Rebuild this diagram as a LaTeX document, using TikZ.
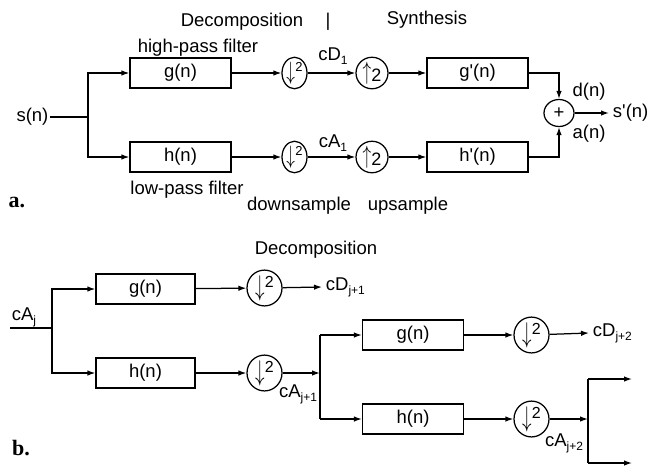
\documentclass[tikz,border=0pt]{standalone}
\usepackage{fontspec}
\setmainfont{Liberation Sans}
\newfontfamily\labfont{Liberation Serif}
\usetikzlibrary{shapes.geometric,arrows.meta}
\newcommand\mysub[1]{\raisebox{-0.4ex}{\fontsize{12}{12}\selectfont #1}}
\newcommand\pr{\textquotesingle}
\newcommand\dnsym{\raisebox{-0.15ex}{\scalebox{1.0}[1.45]{$\downarrow$}}\kern0.3pt\raisebox{0.6ex}{\fontsize{13}{13}\selectfont 2}}
\newcommand\dnsymb{\raisebox{-0.15ex}{\scalebox{1.1}[1.65]{$\downarrow$}}\kern0.3pt\raisebox{0.6ex}{\fontsize{16}{16}\selectfont 2}}
\newcommand\upsym{\raisebox{-0.05ex}{\scalebox{1.0}[1.45]{$\uparrow$}}\kern0.3pt\raisebox{-0.3ex}{\fontsize{18}{18}\selectfont 2}}
\begin{document}
\begin{tikzpicture}[x=1pt,y=-1pt,
  every node/.style={font=\fontsize{18.5}{22}\selectfont},
  line width=1.25pt,
  arr/.style={-{Latex[length=8pt,width=5.5pt]}},
  fbox/.style={draw,rectangle,minimum width=101pt,minimum height=30pt,inner sep=0pt},
  dsa/.style={draw,ellipse,minimum width=25pt,minimum height=23pt,inner sep=0pt},
  usa/.style={draw,ellipse,minimum width=32pt,minimum height=22pt,inner sep=0pt},
  dsb/.style={draw,ellipse,minimum width=35pt,minimum height=28pt,inner sep=0pt},
  sumc/.style={draw,ellipse,minimum width=30pt,minimum height=27pt,inner sep=0pt},
  tag/.style={font=\fontsize{22}{24}\selectfont\labfont\bfseries}]
\useasboundingbox (0,0) rectangle (650,467);
% ---------- part a ----------
\node (tdec) at (242,22) {Decomposition};
\node (tbar) at (328,22) {|};
\node (tsyn) at (427,20) {Synthesis};
\node (hp) at (198,48) {high-pass filter};
\node (lp) at (187,190) {low-pass filter};
\node (dslab) at (299,206) {downsample};
\node (uslab) at (408,206) {upsample};
\node[tag] (ta) at (17,202) {a.};
\node[anchor=east,inner sep=1pt] (sn) at (50,117) {s(n)};
\coordinate (sa) at (88,117);
\node[fbox] (g1) at (180.5,73) {g(n)};
\node[fbox] (h1) at (180.5,157) {h(n)};
\node[dsa] (d1) at (294.5,73) {\dnsym};
\node[dsa] (d2) at (294.5,157) {\dnsym};
\node[usa] (u1) at (372,73) {\upsym};
\node[usa] (u2) at (372,157) {\upsym};
\node[fbox] (g2) at (477.5,73) {g\pr(n)};
\node[fbox] (h2) at (477.5,157) {h\pr(n)};
\node[sumc] (sum) at (559,113) {+};
\node[anchor=west] (sout) at (609,113) {s\pr(n)};
\node (dn) at (589,92) {d(n)};
\node (an) at (589,134) {a(n)};
\node (cd1) at (333,56) {cD\mysub{1}};
\node (ca1) at (333,143) {cA\mysub{1}};
\draw (sn.east) -- (sa);
\draw[arr] (sa) |- (g1.west);
\draw[arr] (sa) |- (h1.west);
\draw[arr] (g1) -- (d1);
\draw[arr] (h1) -- (d2);
\draw[arr] (d1) -- (u1);
\draw[arr] (d2) -- (u2);
\draw[arr] (u1) -- (g2);
\draw[arr] (u2) -- (h2);
\draw[arr] (g2.east) -| (sum.north);
\draw[arr] (h2.east) -| (sum.south);
\draw[arr] (sum) -- (sout.west);
% ---------- part b ----------
\node (tdec2) at (316,250) {Decomposition};
\node[tag] (tb) at (21,448) {b.};
\node (caj) at (24,317) {cA\mysub{j}};
\coordinate (bs) at (10,328);
\coordinate (bsp) at (52,328);
\node[fbox,minimum width=99pt] (g3) at (145.5,289) {g(n)};
\node[fbox,minimum width=99pt] (h3) at (145.5,373) {h(n)};
\node[dsb] (b1) at (264.5,288) {\dnsymb};
\node[dsb] (b2) at (264.5,373) {\dnsymb};
\node[anchor=west] (cdj1) at (322,287) {cD\mysub{j+1}};
\node (caj1) at (298,394) {cA\mysub{j+1}};
\coordinate (bsp2) at (320,373);
\node[fbox] (g4) at (413,335) {g(n)};
\node[fbox] (h4) at (413,419) {h(n)};
\node[dsb] (b3) at (531.5,335) {\dnsymb};
\node[dsb] (b4) at (531.5,419) {\dnsymb};
\node[anchor=west] (cdj2) at (589,333) {cD\mysub{j+2}};
\node (caj2) at (564,443) {cA\mysub{j+2}};
\coordinate (bsp3) at (588,419);
\coordinate (o1) at (632,379);
\coordinate (o2) at (632,463);
\draw (bs) -- (bsp);
\draw[arr] (bsp) |- (g3.west);
\draw[arr] (bsp) |- (h3.west);
\draw[arr] (g3) -- (b1);
\draw[arr] (h3) -- (b2);
\draw[arr] (b1) -- (cdj1.west);
\draw[arr] (b2) -- (bsp2);
\draw (bsp2 |- g4.west) -- (bsp2 |- h4.west);
\draw[arr] (bsp2 |- g4.west) -- (g4.west);
\draw[arr] (bsp2 |- h4.west) -- (h4.west);
\draw[arr] (g4) -- (b3);
\draw[arr] (h4) -- (b4);
\draw[arr] (b3) -- (cdj2.west);
\draw[arr] (b4) -- (bsp3);
\draw (bsp3 |- o1) -- (bsp3 |- o2);
\draw[arr] (bsp3 |- o1) -- (o1);
\draw[arr] (bsp3 |- o2) -- (o2);
\end{tikzpicture}
\end{document}
